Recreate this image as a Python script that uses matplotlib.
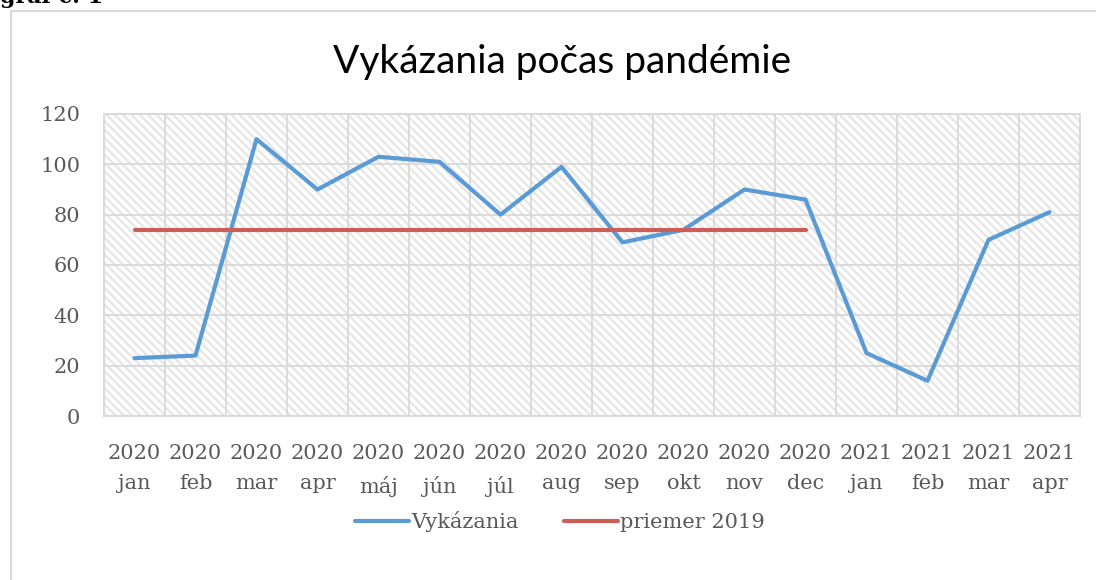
import numpy as np
import matplotlib.pyplot as plt
from matplotlib.patches import Rectangle

# data
months = ['jan', 'feb', 'mar', 'apr', 'máj', 'jún', 'júl', 'aug', 'sep', 'okt', 'nov', 'dec',
          'jan', 'feb', 'mar', 'apr']
years = ['2020'] * 12 + ['2021'] * 4
vykazania = [23, 24, 110, 90, 103, 101, 80, 99, 69, 74, 90, 86, 25, 14, 70, 81]
priemer_2019 = [74] * 12

serif = ['DejaVu Serif']
txt_col = '#595959'
grid_col = '#d9d9d9'
plt.rcParams['hatch.linewidth'] = 1.6

fig = plt.figure(figsize=(10.96, 5.8), dpi=100)

# outer chart frame and the cut-off caption above it
fig.patches.append(Rectangle((11 / 1096, -0.01), 1.0, 1 - 11 / 580 + 0.01, transform=fig.transFigure,
                             fill=False, edgecolor=grid_col, linewidth=1.5))
fig.text(0.0, 1 - 8 / 580, 'graf č. 1', fontsize=16, fontweight='bold', family='DejaVu Serif',
         va='bottom', ha='left', color='black')

ax = fig.add_axes([104 / 1096, 1 - 416 / 580, (1080 - 104) / 1096, (416 - 114) / 580])
x = np.arange(len(months))

# hatched plot area
ax.add_patch(Rectangle((0, 0), 1, 1, transform=ax.transAxes, facecolor='white',
                       edgecolor='#e6e6e6', hatch='\\\\\\\\', linewidth=0, zorder=0))

ax.plot(x, vykazania, color='#5B9BD5', linewidth=3, label='Vykázania', zorder=3,
        solid_joinstyle='round', solid_capstyle='round')
ax.plot(x[:len(priemer_2019)], priemer_2019, color='#CB5F58', linewidth=3, label='priemer 2019',
        zorder=3, solid_capstyle='round')

ax.set_xlim(-0.5, len(months) - 0.5)
ax.set_ylim(0, 120)
ax.set_yticks(np.arange(0, 121, 20))
ax.set_xticks(x)
ax.set_xticklabels([f'{y}\n{m}' for y, m in zip(years, months)], family=serif, fontsize=15,
                   color=txt_col, linespacing=1.75)
ax.set_xticks(np.arange(-0.5, len(months), 1), minor=True)
for lab in ax.get_yticklabels():
    lab.set_family(serif)
ax.tick_params(axis='y', length=0, pad=17, labelsize=15, labelcolor=txt_col)
ax.tick_params(axis='x', which='both', length=0, pad=20)
ax.grid(axis='y', which='major', color=grid_col, linewidth=1.3, zorder=1)
ax.grid(axis='x', which='minor', color=grid_col, linewidth=1.3, zorder=1)
ax.grid(axis='x', which='major', visible=False)
ax.set_axisbelow(True)
for s in ax.spines.values():
    s.set_color(grid_col)
    s.set_linewidth(1.3)

fig.text(562 / 1096, 1 - 62 / 580, 'Vykázania počas pandémie', fontsize=28, family='Lato',
         ha='center', va='center', color='black')

fig.legend(loc='center', bbox_to_anchor=(560 / 1096, 1 - 522 / 580), ncol=2, frameon=False,
           prop={'family': serif, 'size': 15}, labelcolor=txt_col, handlelength=2.6,
           handletextpad=0.1, columnspacing=2.2)

plt.savefig('out.png', dpi=100)
